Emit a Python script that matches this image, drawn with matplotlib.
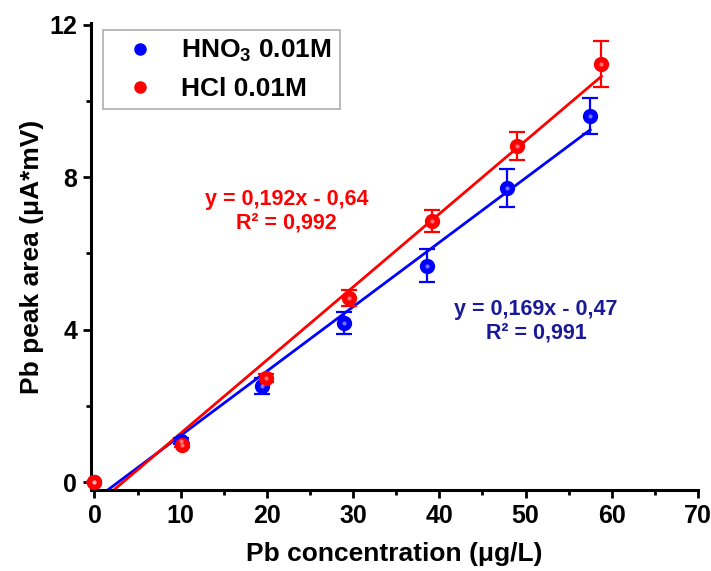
import matplotlib
matplotlib.use("Agg")
import matplotlib.pyplot as plt
from matplotlib.lines import Line2D
import numpy as np

plt.rcParams['font.family'] = ['Liberation Sans', 'DejaVu Sans']
plt.rcParams['font.weight'] = 'bold'
plt.rcParams['mathtext.default'] = 'regular'

# Data
hno3_x = [0, 10, 19.4, 28.9, 38.6, 47.9, 57.5]
hno3_y = [0, 1.08, 2.52, 4.17, 5.68, 7.72, 9.6]
hno3_err = [0, 0.08, 0.2, 0.28, 0.43, 0.5, 0.47]

hcl_x = [0, 10.1, 19.9, 29.5, 39.2, 49.0, 58.8]
hcl_y = [0, 0.98, 2.73, 4.83, 6.85, 8.82, 10.97]
hcl_err = [0, 0.05, 0.1, 0.21, 0.28, 0.37, 0.6]

hno3_fit = (0.169, -0.47)
hcl_fit = (0.192, -0.64)

hno3_label = "HNO$_3$ 0.01M"
hcl_label = "HCl 0.01M"
hno3_eq = "y = 0,169x - 0,47\nR² = 0,991"
hcl_eq = "y = 0,192x - 0,64\nR² = 0,992"

xticks = [0, 10, 20, 30, 40, 50, 60, 70]
yticks = [0, 4, 8, 12]

blue = '#0000ff'
red = '#ff0000'
navy = '#1a1a99'

fig = plt.figure(figsize=(7.11, 5.71), dpi=100)
ax = fig.add_axes([91/711, 81/571, (698-91)/711, (490-23)/571])

# fit lines
for xs, (m, b), c in [(hno3_x, hno3_fit, blue), (hcl_x, hcl_fit, red)]:
    xl = np.array([0, max(xs)])
    ax.plot(xl, m * xl + b, color=c, lw=2, zorder=2)

for xs, ys, es, c in [(hno3_x, hno3_y, hno3_err, blue), (hcl_x, hcl_y, hcl_err, red)]:
    ax.errorbar(xs, ys, yerr=es, fmt='o', color=c, ms=10, mec=c,
                ecolor=c, elinewidth=1.6, capsize=6, capthick=1.6, zorder=3, clip_on=False)
    # highlight for sphere look
    ax.plot(xs, ys, 'o', color='white', ms=3, alpha=0.45, zorder=4,
            markeredgewidth=0, clip_on=False)

ax.set_xlim(-0.4, 70)
ax.set_ylim(-0.21, 12.05)
ax.set_xticks(xticks)
ax.set_yticks(yticks)
ax.set_xticks(np.arange(5, 70, 10), minor=True)
ax.set_yticks([2, 6, 10], minor=True)

for s in ['top', 'right']:
    ax.spines[s].set_visible(False)
for s in ['left', 'bottom']:
    ax.spines[s].set_linewidth(2.2)

ax.tick_params(which='major', direction='out', length=6, width=2, labelsize=18, pad=4)
ax.tick_params(which='minor', direction='out', length=3.5, width=2)
for lbl in ax.get_xticklabels() + ax.get_yticklabels():
    lbl.set_fontweight('bold')

ax.set_xlabel("Pb concentration (μg/L)", fontsize=19, fontweight='bold', labelpad=10)
ax.set_ylabel("Pb peak area (μA*mV)", fontsize=19, fontweight='bold', labelpad=4)

ax.text(22.3, 7.1, hcl_eq, color=red, fontsize=15.5, fontweight='bold',
        ha='center', va='center', linespacing=1.15)
ax.text(51.2, 4.22, hno3_eq, color=navy, fontsize=15.5, fontweight='bold',
        ha='center', va='center', linespacing=1.15)

handles = [Line2D([], [], ls='none', marker='o', color=blue, ms=8),
           Line2D([], [], ls='none', marker='o', color=red, ms=8)]
leg = ax.legend(handles, [hno3_label, hcl_label], loc='upper left',
                bbox_to_anchor=(0.02, 0.985), fontsize=19, frameon=True,
                fancybox=False, edgecolor='#999999', handletextpad=0.45,
                borderpad=0.3, labelspacing=0.5, handlelength=2.2,
                borderaxespad=0)
leg.get_frame().set_linewidth(1.2)
for t in leg.get_texts():
    t.set_fontweight('bold')

fig.savefig('out.png', dpi=100)
